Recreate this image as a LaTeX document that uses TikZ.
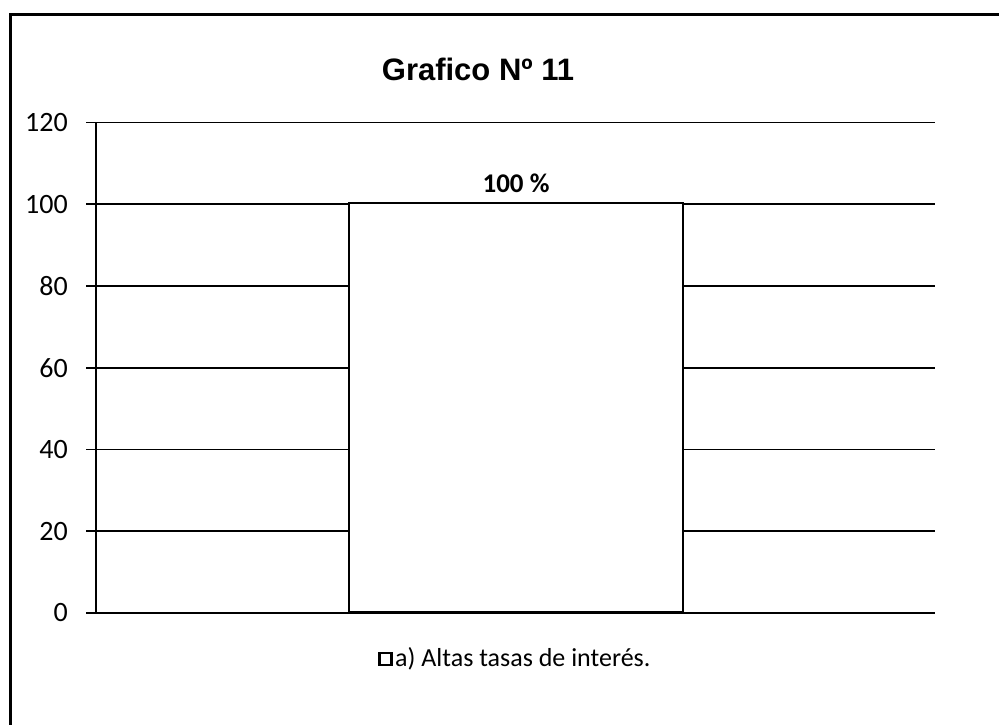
\documentclass[tikz,border=0pt]{standalone}
\usepackage{fontspec}
\setmainfont{Carlito}
\newfontfamily\titlefont{Liberation Sans}
\begin{document}
\begin{tikzpicture}[x=1pt,y=-1pt,
  frame/.style={line width=3pt},
  grid line/.style={line width=1.8pt},
  barbox/.style={draw,fill=white,line width=2.2pt},
  ticklab/.style={anchor=east,font=\fontsize{28}{28}\selectfont,inner sep=0pt},
  legendbox/.style={draw,line width=2.4pt,minimum size=12pt,inner sep=0pt},
  legendtext/.style={anchor=west,font=\fontsize{26}{26}\selectfont,inner sep=0pt}]
\useasboundingbox (0,0) rectangle (999,725);
% outer frame (only left and top visible)
\draw[frame] (10,725) -- (10,15) -- (999,15);
% title
\node[font=\titlefont\bfseries\fontsize{31}{31}\selectfont] (title) at (478,69) {Grafico Nº 11};
% gridlines and labels
\foreach \v/\yy in {0/613,20/531.25,40/449.5,60/367.75,80/286,100/204.25,120/122.5}{
  \draw[grid line] (86,\yy) -- (935,\yy);
  \node[ticklab] (lab\v) at (68,\yy) {\v};
}
% y axis
\draw[grid line] (96,122.5) -- (96,613);
% bar
\node[barbox,minimum width=334pt,minimum height=408.75pt,inner sep=0pt,anchor=south west] (bar) at (348,613) {};
\node[font=\bfseries\fontsize{27}{27}\selectfont] (val) at (516,183) {100 \%};
% legend
\node[legendbox] (lbox) at (385.5,659) {};
\node[legendtext] (ltext) at (395,659) {a) Altas tasas de interés.};
\end{tikzpicture}
\end{document}
